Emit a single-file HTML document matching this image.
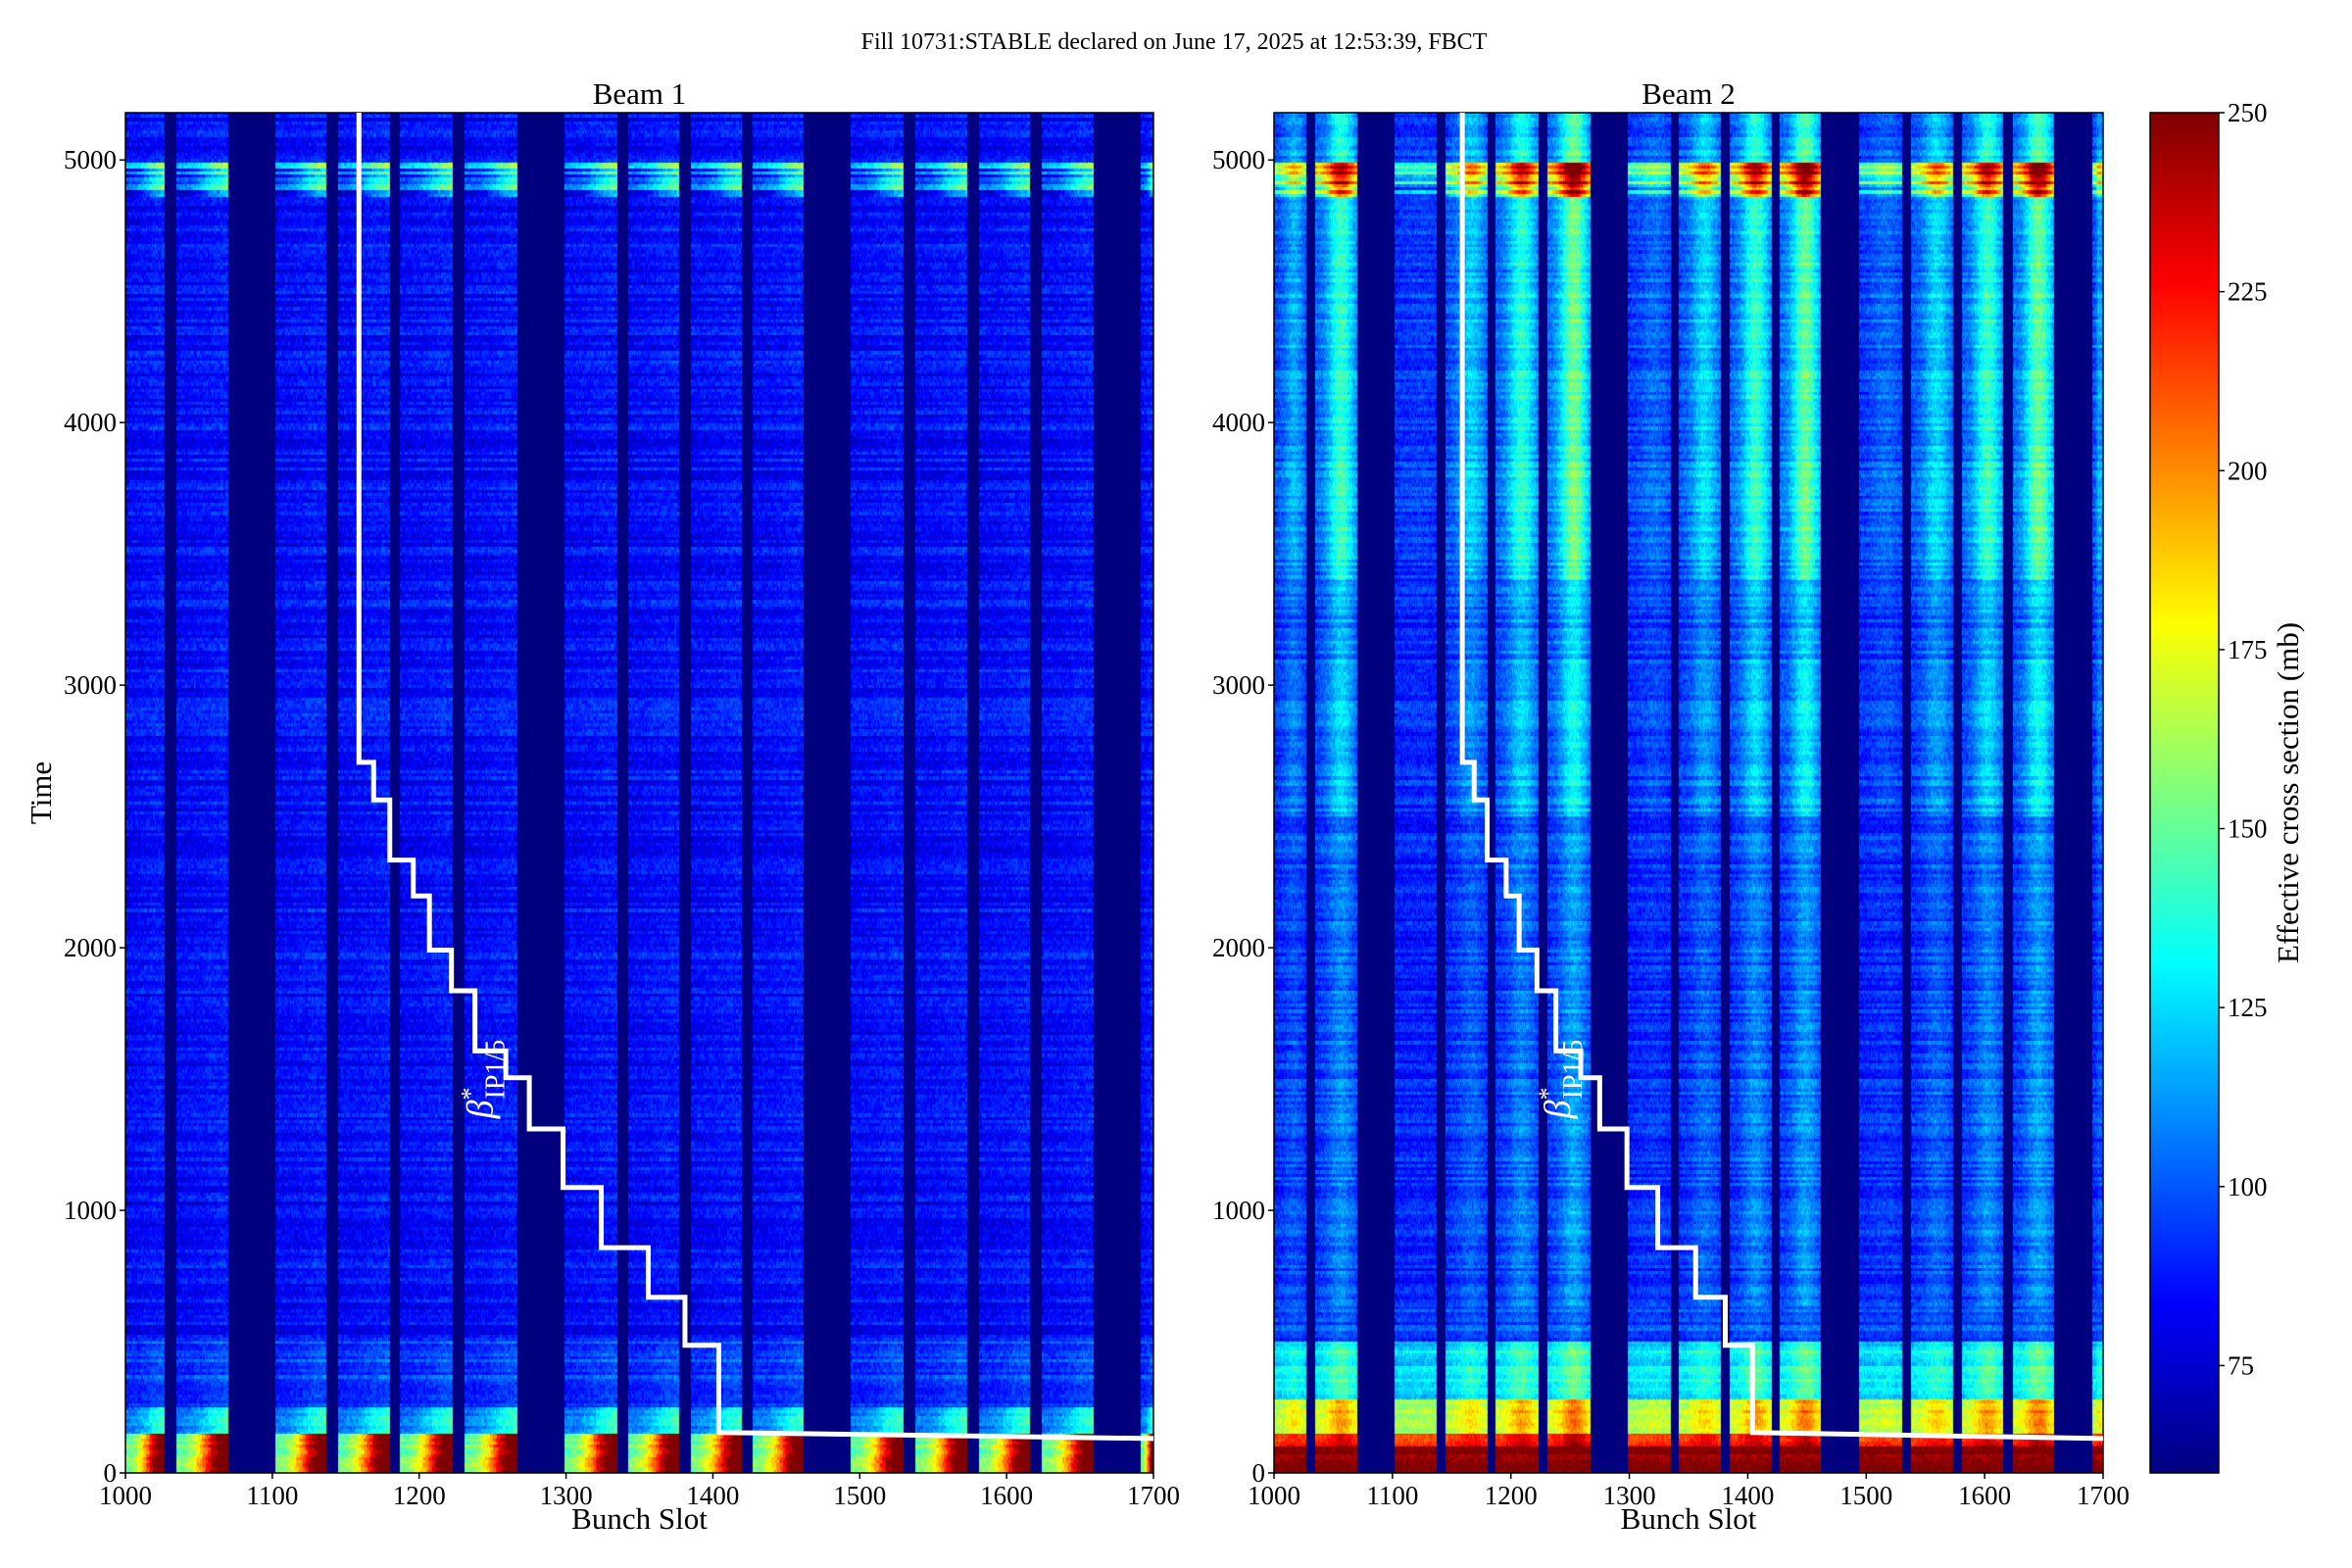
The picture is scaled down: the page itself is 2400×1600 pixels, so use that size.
<!DOCTYPE html>
<html><head><meta charset="utf-8">
<style>
html,body{margin:0;padding:0;background:#fff;}
#wrap{position:relative;width:2400px;height:1600px;overflow:hidden;font-family:"Liberation Serif",serif;}
canvas{position:absolute;}
svg{position:absolute;left:0;top:0;}
</style></head>
<body>
<div id="wrap">
<canvas id="c1" width="1049" height="1388" style="left:128px;top:115px;width:1049px;height:1388px"></canvas>
<canvas id="c2" width="846" height="1388" style="left:1300px;top:115px;width:846px;height:1388px"></canvas>
<canvas id="cb" width="70" height="1388" style="left:2194px;top:115px;width:70px;height:1388px"></canvas>
<svg id="svg" width="2400" height="1600"></svg>
</div>
<script>
// ---- data ----
const trainStarts = [1000,1035,1102,1145,1187,1231,1299,1342,1385,1427,1494,1538,1581,1624,1691];
const trainEnds   = [1027,1070,1137,1180,1223,1267,1335,1377,1420,1462,1530,1573,1616,1659,1700];
const tEdges1 = [0,150,250,500,4860,4990,5180];
const base1   = [150,108,92,84,95,84];
const amp1    = [130,40,10,5,50,5];
const tEdges2 = [0,100,150,280,500,640,2500,3100,3400,4860,4990,5180];
const base2   = [250,215,160,122,94,88,90,88,92,98,92];
const ridge2  = [0,20,30,20,8,18,30,26,42,50,40];
const trainLevel2 = [0.4,0.8,0.05,0.5,0.75,1.0,0.2,0.55,0.8,0.95,0.2,0.55,0.8,0.95,0.4];
const bandBase2 = 115, bandAmp2 = 140;
const stepSlots = [1159,1169,1180,1196,1207,1222,1238,1259,1275,1298,1324,1356,1381,1404];
const stepTimes = [2706,2563,2334,2197,1991,1836,1607,1505,1310,1087,858,669,486,154];
const lineEnd = [1700,131];
const yTicks = [0,1000,2000,3000,4000,5000];
const xTicks = [1000,1100,1200,1300,1400,1500,1600,1700];
const cbTicks = [75,100,125,150,175,200,225,250];
const VMIN=60, VMAX=250, TMAX=5180, SMIN=1000, SMAX=1700;

function jet(v){
  let x=(v-VMIN)/(VMAX-VMIN); x=Math.max(0,Math.min(1,x));
  const f=(a)=>Math.max(0,Math.min(1,a));
  const r=f(1.5-Math.abs(4*x-3)), g=f(1.5-Math.abs(4*x-2)), b=f(1.5-Math.abs(4*x-1));
  return [r*255|0,g*255|0,b*255|0];
}
function hash(a,b){let h=(a*374761393+b*668265263)|0;h=(h^(h>>>13))*1274126177|0;return ((h^(h>>>16))>>>0)/4294967296;}
function seg(edges,t){for(let i=0;i<edges.length-1;i++){if(t<edges[i+1])return i;}return edges.length-2;}
function trainOf(s){for(let i=0;i<trainStarts.length;i++){if(s>=trainStarts[i]&&s<trainEnds[i])return i;}return -1;}

function drawHeat(id,W,H,beam){
  const cv=document.getElementById(id),ctx=cv.getContext('2d');
  const img=ctx.createImageData(W,H);
  const tStep=12;
  for(let py=0;py<H;py++){
    const t=TMAX*(1-(py+0.5)/H);
    const row=Math.floor(t/tStep);
    for(let px=0;px<W;px++){
      const s=SMIN+(SMAX-SMIN)*(px+0.5)/W;
      const si=Math.floor(s);
      const ti=trainOf(si);
      let v;
      if(ti<0){v=VMIN;}
      else{
        const pos=(si-trainStarts[ti])/Math.max(1,trainEnds[ti]-trainStarts[ti]);
        if(beam===1){
          const k=seg(tEdges1,t);
          v=base1[k]+amp1[k]*Math.min(1,pos*1.5)*pos;
          if(k===4) v+=(hash(row,77)-0.5)*60;
        } else {
          const k=seg(tEdges2,t);
          const g=Math.exp(-Math.pow((pos-0.6)/0.32,2));
          if(k===9){ v=bandBase2+bandAmp2*trainLevel2[ti]*(0.4+0.6*g)+(hash(row,55)-0.5)*70; }
          else v=base2[k]+ridge2[k]*trainLevel2[ti]*(1.2*g+0.3);
        }
        v+=(hash(row,beam)-0.5)*16+(hash(row*7+si,si+beam*13)-0.5)*16;
      }
      const c=jet(v),o=(py*W+px)*4;
      img.data[o]=c[0];img.data[o+1]=c[1];img.data[o+2]=c[2];img.data[o+3]=255;
    }
  }
  ctx.putImageData(img,0,0);
}
drawHeat('c1',1049,1388,1);
drawHeat('c2',846,1388,2);
(function(){
  const cv=document.getElementById('cb'),ctx=cv.getContext('2d');
  for(let y=0;y<1388;y++){const v=VMAX-(VMAX-VMIN)*(y+0.5)/1388;const c=jet(v);ctx.fillStyle=`rgb(${c[0]},${c[1]},${c[2]})`;ctx.fillRect(0,y,70,1);}
})();

const svg=document.getElementById('svg');const NS='http://www.w3.org/2000/svg';
function el(tag,attrs,text){const e=document.createElementNS(NS,tag);for(const k in attrs)e.setAttribute(k,attrs[k]);if(text!==undefined)e.textContent=text;svg.appendChild(e);return e;}
const TOP=115,BOT=1503;
function yPix(t){return BOT-(BOT-TOP)*t/TMAX;}
function drawAxes(L,R,name,title){
  const xp=s=>L+(R-L)*(s-SMIN)/(SMAX-SMIN);
  const fr=el('rect',{x:L,y:TOP,width:R-L,height:BOT-TOP,fill:'none',stroke:'#000','stroke-width':1.5});
  
  for(const t of yTicks){const y=yPix(t);
    const l=el('line',{x1:L-6,x2:L,y1:y,y2:y,stroke:'#000','stroke-width':1.5});
    
    const tx=el('text',{x:L-9,y:y+9,'font-size':27,'text-anchor':'end','font-family':'Liberation Serif, serif'},String(t));
    }
  for(const s of xTicks){const x=xp(s);
    const l=el('line',{x1:x,x2:x,y1:BOT,y2:BOT+6,stroke:'#000','stroke-width':1.5});
    
    const tx=el('text',{x:x,y:BOT+32,'font-size':27,'text-anchor':'middle','font-family':'Liberation Serif, serif'},String(s));
    }
  const xl=el('text',{x:(L+R)/2,y:1560,'font-size':31,'text-anchor':'middle','font-family':'Liberation Serif, serif'},'Bunch Slot');
  
  const tt=el('text',{x:(L+R)/2,y:106,'font-size':31,'text-anchor':'middle','font-family':'Liberation Serif, serif'},title);
  
  let d=`M${xp(stepSlots[0])},${TOP}`;
  for(let i=0;i<stepSlots.length;i++){
    d+=` L${xp(stepSlots[i])},${yPix(stepTimes[i])}`;
    if(i+1<stepSlots.length)d+=` L${xp(stepSlots[i+1])},${yPix(stepTimes[i])}`;
  }
  d+=` L${xp(lineEnd[0])},${yPix(lineEnd[1])}`;
  const p=el('path',{d:d,fill:'none',stroke:'#fff','stroke-width':5,'stroke-linejoin':'miter'});
  
  const bx=xp(1250),by=yPix(1500);
  const g=el('text',{transform:`translate(${bx},${by}) rotate(-90)`,fill:'#fff','font-size':38,'text-anchor':'middle','font-family':'Liberation Serif, serif'});
  
  g.innerHTML='<tspan font-style="italic">β</tspan><tspan dy="-14" font-size="26">*</tspan><tspan dx="-12" dy="26" font-size="28">IP1/5</tspan>';
}
drawAxes(128,1177,'beam1','Beam 1');
drawAxes(1300,2146,'beam2','Beam 2');

const yl=el('text',{transform:'translate(52,809) rotate(-90)','font-size':31,'text-anchor':'middle','font-family':'Liberation Serif, serif'},'Time');

const mt=el('text',{x:1198,y:50,'font-size':24,'text-anchor':'middle','font-family':'Liberation Serif, serif'},'Fill 10731:STABLE declared on June 17, 2025 at 12:53:39, FBCT');

const cbf=el('rect',{x:2194,y:TOP,width:70,height:BOT-TOP,fill:'none',stroke:'#000','stroke-width':1.5});

for(const v of cbTicks){const y=BOT-(BOT-TOP)*(v-VMIN)/(VMAX-VMIN);
  const l=el('line',{x1:2264,x2:2270,y1:y,y2:y,stroke:'#000','stroke-width':1.5});
  
  const tx=el('text',{x:2273,y:y+9,'font-size':27,'font-family':'Liberation Serif, serif'},String(v));
  }
const cl=el('text',{transform:'translate(2345,809) rotate(-90)','font-size':31,'text-anchor':'middle','font-family':'Liberation Serif, serif'},'Effective cross section (mb)');

</script>
</body></html>
